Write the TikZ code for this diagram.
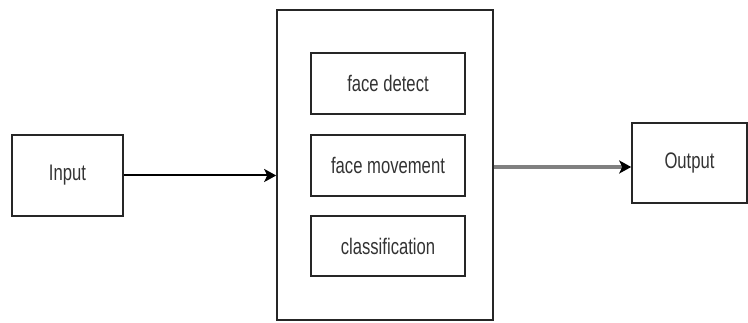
\documentclass[tikz,border=0pt]{standalone}
\usepackage{fontspec}
\newfontfamily\blockfont[FakeStretch=0.74]{Liberation Sans}
\usetikzlibrary{positioning,calc,arrows.meta}

\tikzset{
    block/.style={draw, line width=1.6pt, draw=black!85, inner sep=0pt, font=\blockfont\fontsize{22.5}{26}\selectfont, text=black!80},
    flow/.style={line width=2pt, -{Stealth[length=12pt,width=13pt,inset=3pt,color=black]}}
}

\begin{document}
\begin{tikzpicture}[x=1pt, y=-1pt]
    \useasboundingbox (0,0) rectangle (748,323);

    % Outer stages
    \node[block, minimum width=111pt, minimum height=81pt] (input) at (67.5,175.5) {Input};
    \node[block, minimum width=115pt, minimum height=80pt] (output) at (689.5,163) {Output};

    % Processing box
    \node[block, minimum width=216pt, minimum height=310pt] (proc) at (385,165) {};
    \node[block, minimum width=154pt, minimum height=61pt] (detect) at (388,83.5) {face detect};
    \node[block, minimum width=154pt, minimum height=61pt] (movement) at (388,165.5) {face movement};
    \node[block, minimum width=154pt, minimum height=60pt] (classif) at (388,246) {classification};

    \draw[flow] (input.east) -- (input.east -| proc.west);
    \draw[flow, line width=3.5pt, black!50] ([yshift=-4pt]output.west -| proc.east) -- ([yshift=-4pt]output.west);
\end{tikzpicture}
\end{document}
